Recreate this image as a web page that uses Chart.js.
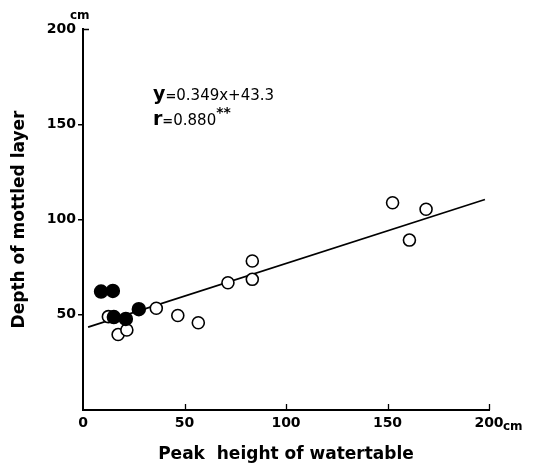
<!DOCTYPE html>
<html>
<head>
<meta charset="utf-8">
<script src="https://cdn.jsdelivr.net/npm/chart.js@4"></script>
<style>
  body { margin: 0; background: #fff; }
  canvas { display: block; }
</style>
</head>
<body>
<canvas id="scatterMottled" width="534" height="469" style="width:534px;height:469px"></canvas>
<script>
const filledX = [8.9, 14.7, 15.2, 21.1, 27.5];
const filledY = [62.2, 62.5, 48.8, 47.8, 52.9];
const openX = [12.5, 17.3, 21.6, 36.1, 46.7, 56.8, 71.4, 83.4, 83.4, 152.5, 160.8, 169.0];
const openY = [49.0, 39.6, 42.0, 53.4, 49.6, 45.8, 66.8, 68.6, 78.2, 108.8, 89.2, 105.4];
const lineX = [2.5, 198];
const lineY = [43.5, 110.5];
const xTicks = [0, 50, 100, 150, 200];
const yTicks = [0, 50, 100, 150, 200];

const toPoints = (xs, ys) => xs.map((x, i) => ({ x: x, y: ys[i] }));

const ctx = document.getElementById("scatterMottled");

const textPlugin = {
    id: "texts",
    afterDraw(chart) {
        const c = chart.ctx;
        const xs = chart.scales.x;
        const ys = chart.scales.y;
        c.save();

        // inward x ticks and the top y tick
        c.strokeStyle = "#000";
        c.lineWidth = 1.3;
        c.beginPath();
        xTicks.forEach((v) => {
            if (v === 0) return;
            const px = Math.round(xs.getPixelForValue(v)) + 0.5;
            c.moveTo(px, xs.top);
            c.lineTo(px, xs.top - 6);
        });
        const topY = Math.round(ys.getPixelForValue(200)) + 0.5;
        c.moveTo(ys.right, topY);
        c.lineTo(ys.right + 6, topY);
        c.stroke();

        c.fillStyle = "#000";
        c.textBaseline = "alphabetic";
        c.textAlign = "left";

        // equation
        let x = 153;
        c.font = "bold 19px 'DejaVu Sans'";
        c.fillText("y", x, 100);
        x += c.measureText("y").width;
        c.font = "bold 13px 'DejaVu Sans'";
        c.fillText("=", x, 100);
        x += c.measureText("=").width;
        c.font = "15px 'DejaVu Sans'";
        c.fillText("0.349x+43.3", x, 100);

        x = 153;
        c.font = "bold 19px 'DejaVu Sans'";
        c.fillText("r", x, 125);
        x += c.measureText("r").width;
        c.font = "bold 13px 'DejaVu Sans'";
        c.fillText("=", x, 125);
        x += c.measureText("=").width;
        c.font = "15px 'DejaVu Sans'";
        c.fillText("0.880", x, 125);
        x += c.measureText("0.880").width;
        c.font = "bold 14px 'DejaVu Sans'";
        c.fillText("**", x, 117);

        // units
        c.font = "bold 12px 'DejaVu Sans'";
        c.fillText("cm", 70, 19);
        c.fillText("cm", 503, 430);
        c.restore();
    },
};

const chartInit = new Chart(ctx, {
    type: "scatter",
    data: {
        datasets: [
            {
                label: "filled",
                data: toPoints(filledX, filledY),
                backgroundColor: "#000",
                borderColor: "#000",
                borderWidth: 1.5,
                pointRadius: 6.5,
                order: 1,
            },
            {
                label: "open",
                data: toPoints(openX, openY),
                backgroundColor: "#fff",
                borderColor: "#000",
                borderWidth: 1.6,
                pointRadius: 6,
                order: 2,
            },
            {
                type: "line",
                label: "regression",
                data: toPoints(lineX, lineY),
                borderColor: "#000",
                borderWidth: 1.6,
                pointRadius: 0,
                fill: false,
                order: 3,
            },
        ],
    },
    options: {
        responsive: false,
        animation: false,
        layout: {
            padding: { top: 29, right: 45, bottom: 0, left: 0 },
        },
        plugins: {
            legend: { display: false },
            tooltip: { enabled: false },
        },
        scales: {
            x: {
                type: "linear",
                min: 0,
                max: 200,
                afterBuildTicks: (scale) => {
                    scale.ticks = xTicks.map((v) => ({ value: v }));
                },
                afterFit: (scale) => {
                    scale.height = 59;
                },
                border: { color: "#000", width: 2 },
                grid: {
                    drawOnChartArea: false,
                    drawTicks: false,
                },
                ticks: {
                    color: "#000",
                    padding: 5,
                    font: { family: "'DejaVu Sans'", size: 14, weight: "bold" },
                },
                title: {
                    display: true,
                    text: "Peak  height of watertable",
                    color: "#000",
                    padding: { top: 0, bottom: 4 },
                    font: { family: "'DejaVu Sans'", size: 17, weight: "bold" },
                },
            },
            y: {
                type: "linear",
                min: 0,
                max: 200,
                afterBuildTicks: (scale) => {
                    scale.ticks = yTicks.map((v) => ({ value: v }));
                },
                afterFit: (scale) => {
                    scale.width = 83;
                },
                border: { color: "#000", width: 2 },
                grid: {
                    drawOnChartArea: false,
                    drawTicks: true,
                    tickLength: 5,
                    color: (c) => (c.tick && (c.tick.value === 0 || c.tick.value === 200) ? "rgba(0,0,0,0)" : "#000"),
                    lineWidth: 1.5,
                },
                ticks: {
                    color: "#000",
                    padding: 2,
                    font: { family: "'DejaVu Sans'", size: 14, weight: "bold" },
                    callback: (v) => (v === 0 ? "" : v),
                },
                title: {
                    display: true,
                    text: "Depth of mottled layer",
                    color: "#000",
                    padding: { top: 9, bottom: 0 },
                    font: { family: "'DejaVu Sans'", size: 17, weight: "bold" },
                },
            },
        },
    },
    plugins: [textPlugin],
});
</script>
</body>
</html>
